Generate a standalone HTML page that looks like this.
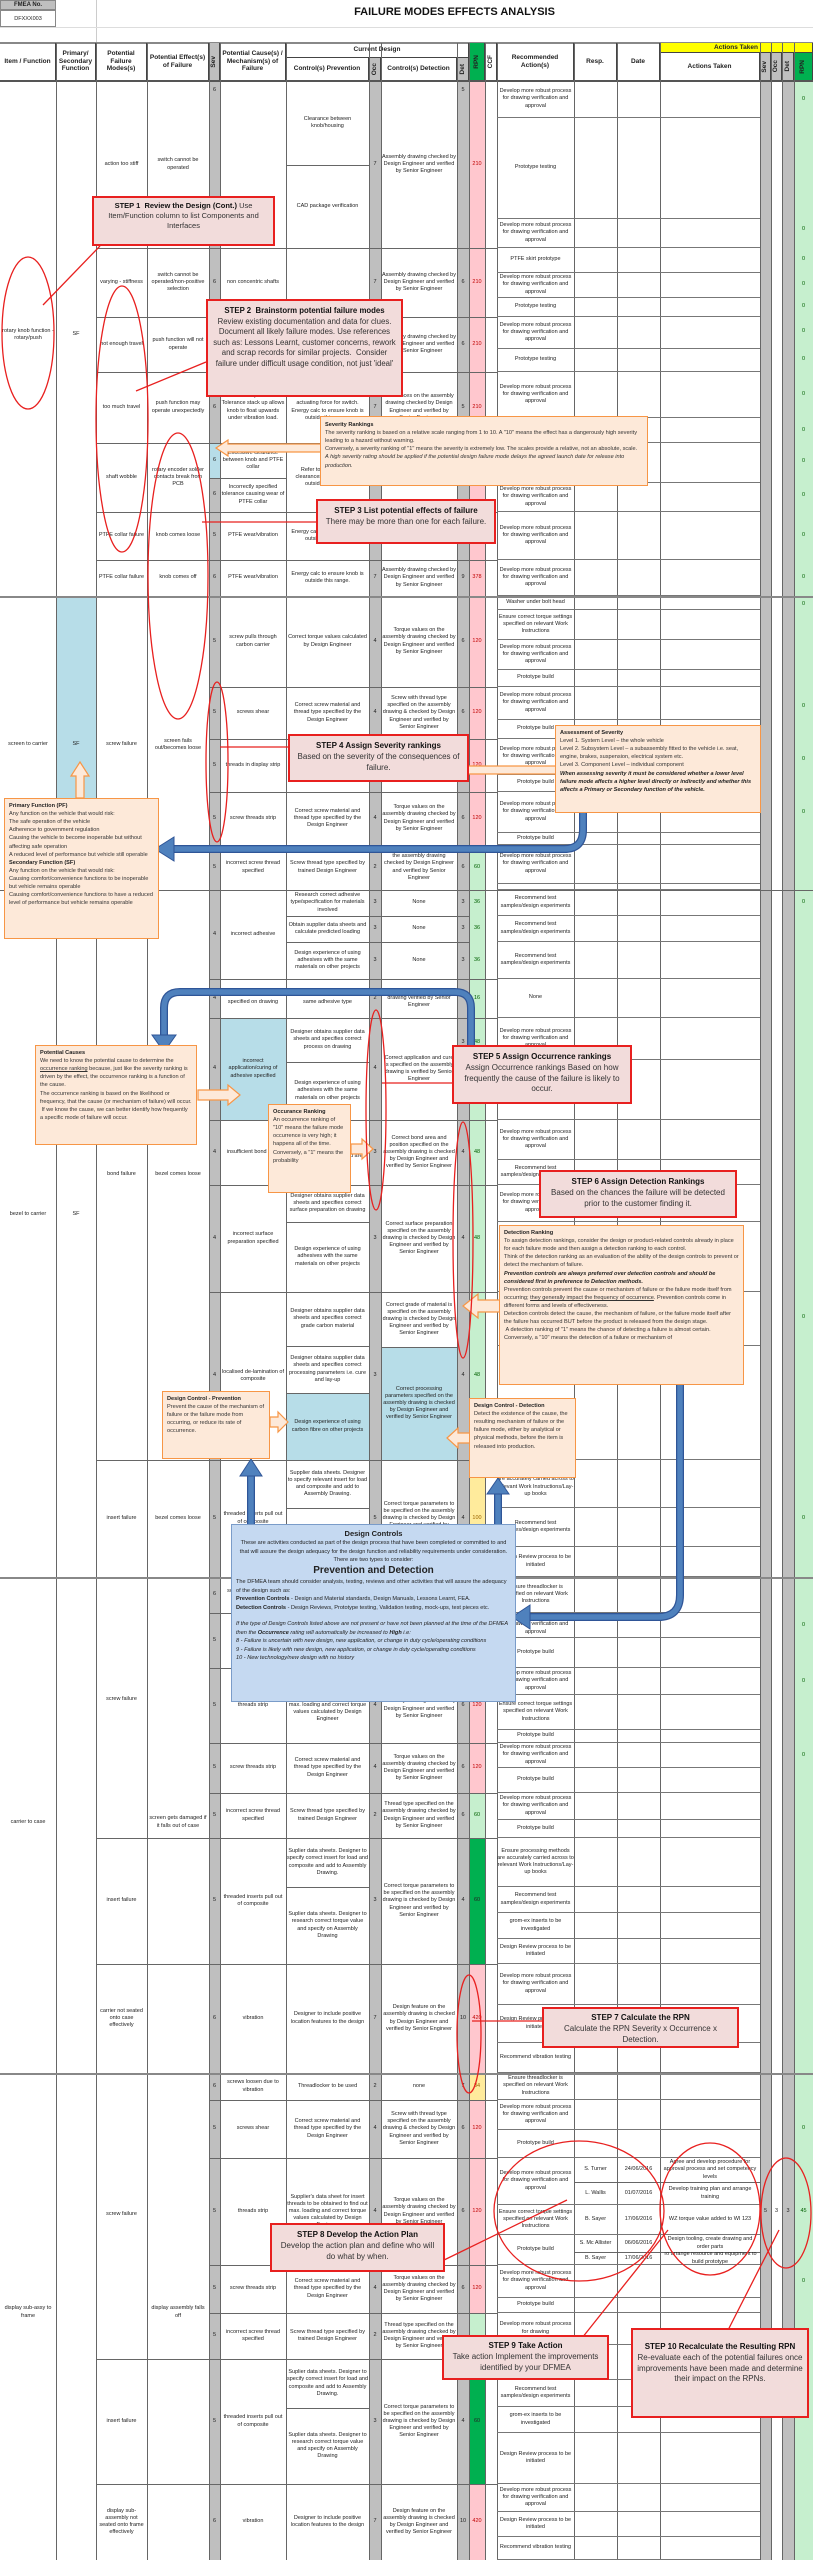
<!DOCTYPE html>
<html><head><meta charset="utf-8">
<style>
*{box-sizing:border-box;margin:0;padding:0}
body{width:813px;height:2560px;position:relative;background:#fff;font-family:"Liberation Sans",sans-serif;color:#222;overflow:hidden}
.a{position:absolute}
.t{position:absolute;display:flex;align-items:center;justify-content:center;text-align:center;font-size:5.5px;line-height:1.3;overflow:hidden;padding:0 1px}
.h{position:absolute;height:1px;background:#666}
.v{position:absolute;width:1px;background:#666;top:43px;height:2517px}
.r{position:absolute;left:497px;width:263px;padding-right:186px;border-bottom:1px solid #777;display:flex;align-items:center;justify-content:center;text-align:center;font-size:5.5px;line-height:1.3;overflow:hidden}
.hd{position:absolute;display:flex;align-items:center;justify-content:center;text-align:center;font-size:6.5px;font-weight:bold;line-height:1.2;border-right:1px solid #444;border-bottom:1px solid #444}
.vt{writing-mode:vertical-rl;transform:rotate(180deg)}
.step{position:absolute;background:#f2dcdb;border:2px solid #e8201f;text-align:center;font-size:8px;line-height:1.35;padding:3px 4px;color:#333}
.step b{color:#111}
.or{position:absolute;background:#fde9d9;border:1.5px solid #f79646;font-size:5.6px;line-height:1.45;padding:3px 4px;color:#333}
.or b{color:#222}
.red{color:#c00000}.grn{color:#006100}
</style></head><body>

<!-- title block -->
<div class="a" style="left:0;top:0;width:56px;height:10px;background:#bfbfbf;border:1px solid #888;font-size:6px;font-weight:bold;text-align:center;line-height:9px">FMEA No.</div>
<div class="a" style="left:0;top:10px;width:56px;height:17px;border:1px solid #888;font-size:5.5px;text-align:center;line-height:16px">DFXXX003</div>
<div class="a" style="left:96px;top:0;width:1px;height:43px;background:#ccc"></div>
<div class="a" style="left:0;top:27px;width:813px;height:1px;background:#ddd"></div>
<div class="a" style="left:96px;top:6px;width:717px;text-align:center;font-size:11px;font-weight:bold;color:#111">FAILURE MODES EFFECTS ANALYSIS</div>
<div class="a" style="left:0;top:42px;width:813px;height:2px;background:#888"></div>

<!-- column background strips -->
<div class="a" style="left:209px;top:81px;width:11px;height:2479px;background:#bfbfbf"></div>
<div class="a" style="left:369px;top:81px;width:12px;height:2479px;background:#bfbfbf"></div>
<div class="a" style="left:457px;top:81px;width:12px;height:2479px;background:#bfbfbf"></div>
<div class="a" style="left:760px;top:81px;width:11px;height:2479px;background:#bfbfbf"></div>
<div class="a" style="left:782px;top:81px;width:12px;height:2479px;background:#bfbfbf"></div>
<div class="a" style="left:794px;top:81px;width:19px;height:2479px;background:#c6efce"></div>
<!-- RPN colours -->
<div class="a" style="left:469px;top:81px;width:16px;height:764px;background:#ffc7ce"></div>
<div class="a" style="left:469px;top:845px;width:16px;height:615px;background:#c6efce"></div>
<div class="a" style="left:469px;top:1460px;width:16px;height:153px;background:#ffeb9c"></div>
<div class="a" style="left:469px;top:1613px;width:16px;height:180px;background:#ffc7ce"></div>
<div class="a" style="left:469px;top:1793px;width:16px;height:45px;background:#c6efce"></div>
<div class="a" style="left:469px;top:1838px;width:16px;height:126px;background:#00b050"></div>
<div class="a" style="left:469px;top:1964px;width:16px;height:109px;background:#ffc7ce"></div>
<div class="a" style="left:469px;top:2073px;width:16px;height:27px;background:#ffeb9c"></div>
<div class="a" style="left:469px;top:2100px;width:16px;height:213px;background:#ffc7ce"></div>
<div class="a" style="left:469px;top:2313px;width:16px;height:46px;background:#c6efce"></div>
<div class="a" style="left:469px;top:2359px;width:16px;height:125px;background:#00b050"></div>
<div class="a" style="left:469px;top:2484px;width:16px;height:76px;background:#ffc7ce"></div>
<!-- light blue cells -->
<div class="a" style="left:56px;top:596px;width:40px;height:294px;background:#b7dde8"></div>
<div class="a" style="left:209px;top:443px;width:11px;height:35px;background:#b7dde8"></div>
<div class="a" style="left:220px;top:1018px;width:66px;height:102px;background:#b7dde8"></div>
<div class="a" style="left:286px;top:1393px;width:83px;height:67px;background:#b7dde8"></div>
<div class="a" style="left:381px;top:1347px;width:76px;height:113px;background:#b7dde8"></div>

<!-- header -->
<div class="hd" style="left:0;top:43px;width:56px;height:38px">Item / Function</div>
<div class="hd" style="left:56px;top:43px;width:40px;height:38px">Primary/ Secondary Function</div>
<div class="hd" style="left:96px;top:43px;width:51px;height:38px">Potential Failure Modes(s)</div>
<div class="hd" style="left:147px;top:43px;width:62px;height:38px">Potential Effect(s) of Failure</div>
<div class="hd" style="left:209px;top:43px;width:11px;height:38px;background:#bfbfbf"><span class="vt">Sev</span></div>
<div class="hd" style="left:220px;top:43px;width:66px;height:38px">Potential Cause(s) / Mechanism(s) of Failure</div>
<div class="hd" style="left:286px;top:43px;width:183px;height:15px">Current Design</div>
<div class="hd" style="left:286px;top:58px;width:83px;height:23px">Control(s) Prevention</div>
<div class="hd" style="left:369px;top:58px;width:12px;height:23px;background:#bfbfbf"><span class="vt">Occ</span></div>
<div class="hd" style="left:381px;top:58px;width:76px;height:23px">Control(s) Detection</div>
<div class="hd" style="left:457px;top:58px;width:12px;height:23px;background:#bfbfbf"><span class="vt">Det</span></div>
<div class="hd" style="left:469px;top:43px;width:16px;height:38px;background:#00b050"><span class="vt">RPN</span></div>
<div class="hd" style="left:485px;top:43px;width:12px;height:38px"><span class="vt">CCF</span></div>
<div class="hd" style="left:497px;top:43px;width:77px;height:38px">Recommended Action(s)</div>
<div class="hd" style="left:574px;top:43px;width:43px;height:38px">Resp.</div>
<div class="hd" style="left:617px;top:43px;width:43px;height:38px">Date</div>
<div class="hd" style="left:660px;top:43px;width:153px;height:10px;background:#ffff00">Actions Taken</div>
<div class="hd" style="left:660px;top:53px;width:100px;height:28px">Actions Taken</div>
<div class="hd" style="left:760px;top:53px;width:11px;height:28px;background:#bfbfbf"><span class="vt">Sev</span></div>
<div class="hd" style="left:771px;top:53px;width:11px;height:28px;background:#bfbfbf"><span class="vt">Occ</span></div>
<div class="hd" style="left:782px;top:53px;width:12px;height:28px;background:#bfbfbf"><span class="vt">Det</span></div>
<div class="hd" style="left:794px;top:53px;width:19px;height:28px;background:#00b050"><span class="vt">RPN</span></div>
<div class="a" style="left:0;top:80px;width:813px;height:2px;background:#555"></div>

<!-- vertical grid lines -->
<div class="v" style="left:56px"></div><div class="v" style="left:96px"></div><div class="v" style="left:147px"></div><div class="v" style="left:209px"></div><div class="v" style="left:220px"></div><div class="v" style="left:286px"></div><div class="v" style="left:369px"></div><div class="v" style="left:381px"></div><div class="v" style="left:457px"></div><div class="v" style="left:469px"></div><div class="v" style="left:485px"></div><div class="v" style="left:497px"></div><div class="v" style="left:574px"></div><div class="v" style="left:617px"></div><div class="v" style="left:660px"></div><div class="v" style="left:760px"></div><div class="v" style="left:771px"></div><div class="v" style="left:782px"></div><div class="v" style="left:794px"></div>

<!-- section lines -->
<div class="h" style="left:0;top:596px;width:813px;height:2px;background:#888"></div>
<div class="h" style="left:0;top:890px;width:813px"></div>
<div class="h" style="left:0;top:1577px;width:813px;height:2px;background:#888"></div>
<div class="h" style="left:0;top:2073px;width:813px;height:2px;background:#888"></div>
<!-- failure mode lines -->
<div class="h" style="left:96px;top:248px;width:401px"></div><div class="h" style="left:96px;top:317px;width:401px"></div><div class="h" style="left:96px;top:372px;width:401px"></div><div class="h" style="left:96px;top:443px;width:401px"></div><div class="h" style="left:96px;top:512px;width:401px"></div><div class="h" style="left:96px;top:560px;width:401px"></div>
<div class="h" style="left:96px;top:1460px;width:401px"></div>
<div class="h" style="left:96px;top:1838px;width:401px"></div><div class="h" style="left:96px;top:1964px;width:401px"></div>
<div class="h" style="left:96px;top:2359px;width:401px"></div><div class="h" style="left:96px;top:2484px;width:401px"></div>
<!-- cause lines -->
<div class="h" style="left:209px;top:478px;width:77px"></div>
<div class="h" style="left:209px;top:687px;width:288px"></div><div class="h" style="left:209px;top:739px;width:288px"></div><div class="h" style="left:209px;top:792px;width:288px"></div><div class="h" style="left:209px;top:845px;width:288px"></div>
<div class="h" style="left:209px;top:979px;width:288px"></div><div class="h" style="left:209px;top:1018px;width:288px"></div><div class="h" style="left:209px;top:1120px;width:288px"></div><div class="h" style="left:209px;top:1185px;width:288px"></div><div class="h" style="left:209px;top:1292px;width:288px"></div>
<div class="h" style="left:209px;top:1613px;width:288px"></div><div class="h" style="left:209px;top:1668px;width:288px"></div><div class="h" style="left:209px;top:1743px;width:288px"></div><div class="h" style="left:209px;top:1793px;width:288px"></div>
<div class="h" style="left:209px;top:2100px;width:288px"></div><div class="h" style="left:209px;top:2158px;width:288px"></div><div class="h" style="left:209px;top:2265px;width:288px"></div><div class="h" style="left:209px;top:2313px;width:288px"></div>
<!-- prevention/detection splits -->
<div class="h" style="left:286px;top:165px;width:83px"></div><div class="h" style="left:286px;top:916px;width:183px"></div><div class="h" style="left:286px;top:942px;width:183px"></div><div class="h" style="left:286px;top:1062px;width:83px"></div><div class="h" style="left:286px;top:1222px;width:83px"></div><div class="h" style="left:286px;top:1346px;width:83px"></div><div class="h" style="left:286px;top:1393px;width:83px"></div><div class="h" style="left:286px;top:1508px;width:83px"></div><div class="h" style="left:381px;top:1347px;width:76px"></div>
<div class="h" style="left:286px;top:1887px;width:83px"></div><div class="h" style="left:286px;top:2408px;width:83px"></div>

<!-- Section 1 text -->
<div class="t" style="left:0;top:300px;width:56px;height:70px">rotary knob function - rotary/push</div>
<div class="t" style="left:56px;top:300px;width:40px;height:70px">SF</div>
<div class="t" style="left:96px;top:81px;width:51px;height:167px">action too stiff</div>
<div class="t" style="left:147px;top:81px;width:62px;height:167px">switch cannot be operated</div>
<div class="t" style="left:96px;top:248px;width:51px;height:69px">varying - stiffness</div>
<div class="t" style="left:147px;top:248px;width:62px;height:69px">switch cannot be operated/non-positive selection</div>
<div class="t" style="left:96px;top:317px;width:51px;height:55px">not enough travel</div>
<div class="t" style="left:147px;top:317px;width:62px;height:55px">push function will not operate</div>
<div class="t" style="left:96px;top:372px;width:51px;height:71px">too much travel</div>
<div class="t" style="left:147px;top:372px;width:62px;height:71px">push function may operate unexpectedly</div>
<div class="t" style="left:96px;top:443px;width:51px;height:69px">shaft wobble</div>
<div class="t" style="left:147px;top:443px;width:62px;height:69px">rotary encoder solder contacts break from PCB</div>
<div class="t" style="left:96px;top:512px;width:51px;height:48px">PTFE collar failure</div>
<div class="t" style="left:147px;top:512px;width:62px;height:48px">knob comes loose</div>
<div class="t" style="left:96px;top:560px;width:51px;height:36px">PTFE collar failure</div>
<div class="t" style="left:147px;top:560px;width:62px;height:36px">knob comes off</div>

<div class="t" style="left:209px;top:81px;width:11px;height:20px">6</div>
<div class="t" style="left:286px;top:81px;width:83px;height:84px">Clearance between knob/housing</div>
<div class="t" style="left:286px;top:165px;width:83px;height:83px">CAD package verification</div>
<div class="t" style="left:369px;top:81px;width:12px;height:167px">7</div>
<div class="t" style="left:381px;top:81px;width:76px;height:167px">Assembly drawing checked by Design Engineer and verified by Senior Engineer</div>
<div class="t" style="left:457px;top:81px;width:12px;height:20px">5</div>
<div class="t red" style="left:469px;top:81px;width:16px;height:167px">210</div>

<div class="t" style="left:209px;top:248px;width:11px;height:69px">6</div>
<div class="t" style="left:220px;top:248px;width:66px;height:69px">non concentric shafts</div>
<div class="t" style="left:369px;top:248px;width:12px;height:69px">7</div>
<div class="t" style="left:381px;top:248px;width:76px;height:69px">Assembly drawing checked by Design Engineer and verified by Senior Engineer</div>
<div class="t" style="left:457px;top:248px;width:12px;height:69px">6</div>
<div class="t red" style="left:469px;top:248px;width:16px;height:69px">210</div>

<div class="t" style="left:381px;top:317px;width:76px;height:55px">Assembly drawing checked by Design Engineer and verified by Senior Engineer</div>
<div class="t" style="left:457px;top:317px;width:12px;height:55px">6</div>
<div class="t red" style="left:469px;top:317px;width:16px;height:55px">210</div>

<div class="t" style="left:209px;top:372px;width:11px;height:71px">6</div>
<div class="t" style="left:220px;top:372px;width:66px;height:71px">function operation. Tolerance stack up allows knob to float upwards under vibration load.</div>
<div class="t" style="left:286px;top:372px;width:83px;height:71px">Refer to datasheet for minimum actuating force for switch. Energy calc to ensure knob is outside this range.</div>
<div class="t" style="left:369px;top:372px;width:12px;height:71px">7</div>
<div class="t" style="left:381px;top:372px;width:76px;height:71px">Clearances on the assembly drawing checked by Design Engineer and verified by Senior Engineer</div>
<div class="t" style="left:457px;top:372px;width:12px;height:71px">5</div>
<div class="t red" style="left:469px;top:372px;width:16px;height:71px">210</div>

<div class="t" style="left:209px;top:443px;width:11px;height:35px">6</div>
<div class="t" style="left:220px;top:443px;width:66px;height:35px">Excessive clearance between knob and PTFE collar</div>
<div class="t" style="left:209px;top:478px;width:11px;height:34px">6</div>
<div class="t" style="left:220px;top:478px;width:66px;height:34px">Incorrectly specified tolerance causing wear of PTFE collar</div>
<div class="t" style="left:286px;top:443px;width:83px;height:69px">Refer to datasheet for clearances ensure knob is outside this range.</div>
<div class="t" style="left:369px;top:443px;width:12px;height:69px">7</div>
<div class="t" style="left:381px;top:443px;width:76px;height:69px">Assembly drawing checked by Design Engineer and verified by Senior Engineer</div>
<div class="t" style="left:457px;top:443px;width:12px;height:69px">8</div>
<div class="t red" style="left:469px;top:443px;width:16px;height:69px">336</div>

<div class="t" style="left:209px;top:512px;width:11px;height:48px">5</div>
<div class="t" style="left:220px;top:512px;width:66px;height:48px">PTFE wear/vibration</div>
<div class="t" style="left:286px;top:512px;width:83px;height:48px">Energy calc to ensure knob is outside this range.</div>
<div class="t" style="left:381px;top:512px;width:76px;height:48px">Senior Engineer</div>
<div class="t" style="left:209px;top:560px;width:11px;height:36px">6</div>
<div class="t" style="left:220px;top:560px;width:66px;height:36px">PTFE wear/vibration</div>
<div class="t" style="left:286px;top:560px;width:83px;height:36px">Energy calc to ensure knob is outside this range.</div>
<div class="t" style="left:369px;top:560px;width:12px;height:36px">7</div>
<div class="t" style="left:381px;top:560px;width:76px;height:36px">Assembly drawing checked by Design Engineer and verified by Senior Engineer</div>
<div class="t" style="left:457px;top:560px;width:12px;height:36px">9</div>
<div class="t red" style="left:469px;top:560px;width:16px;height:36px">378</div>

<!-- rec section 1 -->
<div class="r" style="top:81px;height:37px">Develop more robust process for drawing verification and approval</div>
<div class="r" style="top:118px;height:101px">Prototype testing</div>
<div class="r" style="top:219px;height:29px">Develop more robust process for drawing verification and approval</div>
<div class="r" style="top:248px;height:25px">PTFE skirt prototype</div>
<div class="r" style="top:273px;height:25px">Develop more robust process for drawing verification and approval</div>
<div class="r" style="top:298px;height:19px">Prototype testing</div>
<div class="r" style="top:317px;height:32px">Develop more robust process for drawing verification and approval</div>
<div class="r" style="top:349px;height:23px">Prototype testing</div>
<div class="r" style="top:372px;height:46px">Develop more robust process for drawing verification and approval</div>
<div class="r" style="top:418px;height:25px"></div>
<div class="r" style="top:443px;height:40px"></div>
<div class="r" style="top:483px;height:29px">Develop more robust process for drawing verification and approval</div>
<div class="r" style="top:512px;height:48px">Develop more robust process for drawing verification and approval</div>
<div class="r" style="top:560px;height:36px">Develop more robust process for drawing verification and approval</div>

<!-- Section 2 -->
<div class="t" style="left:0;top:720px;width:56px;height:50px">screen to carrier</div>
<div class="t" style="left:56px;top:720px;width:40px;height:50px">SF</div>
<div class="t" style="left:96px;top:720px;width:51px;height:50px">screw failure</div>
<div class="t" style="left:147px;top:720px;width:62px;height:50px">screen fails out/becomes loose</div>
<div class="t" style="left:209px;top:596px;width:11px;height:91px">5</div>
<div class="t" style="left:220px;top:596px;width:66px;height:91px">screw pulls through carbon carrier</div>
<div class="t" style="left:286px;top:596px;width:83px;height:91px">Correct torque values calculated by Design Engineer</div>
<div class="t" style="left:369px;top:596px;width:12px;height:91px">4</div>
<div class="t" style="left:381px;top:596px;width:76px;height:91px">Torque values on the assembly drawing checked by Design Engineer and verified by Senior Engineer</div>
<div class="t" style="left:457px;top:596px;width:12px;height:91px">6</div>
<div class="t red" style="left:469px;top:596px;width:16px;height:91px">120</div>
<div class="t" style="left:209px;top:687px;width:11px;height:52px">5</div>
<div class="t" style="left:220px;top:687px;width:66px;height:52px">screws shear</div>
<div class="t" style="left:286px;top:687px;width:83px;height:52px">Correct screw material and thread type specified by the Design Engineer</div>
<div class="t" style="left:369px;top:687px;width:12px;height:52px">4</div>
<div class="t" style="left:381px;top:687px;width:76px;height:52px">Screw with thread type specified on the assembly drawing &amp; checked by Design Engineer and verified by Senior Engineer</div>
<div class="t" style="left:457px;top:687px;width:12px;height:52px">6</div>
<div class="t red" style="left:469px;top:687px;width:16px;height:52px">120</div>
<div class="t" style="left:209px;top:739px;width:11px;height:53px">5</div>
<div class="t" style="left:220px;top:739px;width:66px;height:53px">threads in display strip</div>
<div class="t red" style="left:469px;top:739px;width:16px;height:53px">120</div>
<div class="t" style="left:209px;top:792px;width:11px;height:53px">5</div>
<div class="t" style="left:220px;top:792px;width:66px;height:53px">screw threads strip</div>
<div class="t" style="left:286px;top:792px;width:83px;height:53px">Correct screw material and thread type specified by the Design Engineer</div>
<div class="t" style="left:369px;top:792px;width:12px;height:53px">4</div>
<div class="t" style="left:381px;top:792px;width:76px;height:53px">Torque values on the assembly drawing checked by Design Engineer and verified by Senior Engineer</div>
<div class="t" style="left:457px;top:792px;width:12px;height:53px">6</div>
<div class="t red" style="left:469px;top:792px;width:16px;height:53px">120</div>
<div class="t" style="left:209px;top:845px;width:11px;height:45px">5</div>
<div class="t" style="left:220px;top:845px;width:66px;height:45px">incorrect screw thread specified</div>
<div class="t" style="left:286px;top:845px;width:83px;height:45px">Screw thread type specified by trained Design Engineer</div>
<div class="t" style="left:369px;top:845px;width:12px;height:45px">2</div>
<div class="t" style="left:381px;top:845px;width:76px;height:45px">the assembly drawing checked by Design Engineer and verified by Senior Engineer</div>
<div class="t" style="left:457px;top:845px;width:12px;height:45px">6</div>
<div class="t grn" style="left:469px;top:845px;width:16px;height:45px">60</div>
<div class="r" style="top:596px;height:14px">Washer under bolt head</div>
<div class="r" style="top:610px;height:30px">Ensure correct torque settings specified on relevant Work Instructions</div>
<div class="r" style="top:640px;height:30px">Develop more robust process for drawing verification and approval</div>
<div class="r" style="top:670px;height:17px">Prototype build</div>
<div class="r" style="top:687px;height:33px">Develop more robust process for drawing verification and approval</div>
<div class="r" style="top:720px;height:19px">Prototype build</div>
<div class="r" style="top:739px;height:36px">Develop more robust process for drawing verification and approval</div>
<div class="r" style="top:775px;height:17px">Prototype build</div>
<div class="r" style="top:792px;height:41px">Develop more robust process for drawing verification and approval</div>
<div class="r" style="top:833px;height:12px">Prototype build</div>
<div class="r" style="top:845px;height:39px">Develop more robust process for drawing verification and approval</div>
<div class="r" style="top:884px;height:6px"></div>

<!-- Section 3 -->
<div class="t" style="left:0;top:1200px;width:56px;height:30px">bezel to carrier</div>
<div class="t" style="left:56px;top:1200px;width:40px;height:30px">SF</div>
<div class="t" style="left:96px;top:1160px;width:51px;height:30px">bond failure</div>
<div class="t" style="left:147px;top:1160px;width:62px;height:30px">bezel comes loose</div>
<div class="t" style="left:96px;top:1460px;width:51px;height:117px">insert failure</div>
<div class="t" style="left:147px;top:1460px;width:62px;height:117px">bezel comes loose</div>
<div class="t" style="left:209px;top:890px;width:11px;height:89px">4</div>
<div class="t" style="left:220px;top:890px;width:66px;height:89px">incorrect adhesive</div>
<div class="t" style="left:286px;top:890px;width:83px;height:26px">Research correct adhesive type/specification for materials involved</div>
<div class="t" style="left:286px;top:916px;width:83px;height:26px">Obtain supplier data sheets and calculate predicted loading</div>
<div class="t" style="left:286px;top:942px;width:83px;height:37px">Design experience of using adhesives with the same materials on other projects</div>
<div class="t" style="left:369px;top:890px;width:12px;height:26px">3</div><div class="t" style="left:369px;top:916px;width:12px;height:26px">3</div><div class="t" style="left:369px;top:942px;width:12px;height:37px">3</div>
<div class="t" style="left:381px;top:890px;width:76px;height:26px">None</div><div class="t" style="left:381px;top:916px;width:76px;height:26px">None</div><div class="t" style="left:381px;top:942px;width:76px;height:37px">None</div>
<div class="t" style="left:457px;top:890px;width:12px;height:26px">3</div><div class="t" style="left:457px;top:916px;width:12px;height:26px">3</div><div class="t" style="left:457px;top:942px;width:12px;height:37px">3</div>
<div class="t grn" style="left:469px;top:890px;width:16px;height:26px">36</div><div class="t grn" style="left:469px;top:916px;width:16px;height:26px">36</div><div class="t grn" style="left:469px;top:942px;width:16px;height:37px">36</div>
<div class="t" style="left:209px;top:979px;width:11px;height:39px">4</div>
<div class="t" style="left:220px;top:979px;width:66px;height:39px">correct adhesive adhesive specified on drawing</div>
<div class="t" style="left:286px;top:979px;width:83px;height:39px">Design experience of using the same adhesive type</div>
<div class="t" style="left:369px;top:979px;width:12px;height:39px">2</div>
<div class="t" style="left:381px;top:979px;width:76px;height:39px">Adhesive type specified on drawing verified by Senior Engineer</div>
<div class="t grn" style="left:469px;top:979px;width:16px;height:39px">16</div>
<div class="t" style="left:209px;top:1018px;width:11px;height:102px">4</div>
<div class="t" style="left:220px;top:1018px;width:66px;height:102px">incorrect application/curing of adhesive specified</div>
<div class="t" style="left:286px;top:1018px;width:83px;height:44px">Designer obtains supplier data sheets and specifies correct process on drawing</div>
<div class="t" style="left:286px;top:1062px;width:83px;height:58px">Design experience of using adhesives with the same materials on other projects</div>
<div class="t" style="left:369px;top:1018px;width:12px;height:102px">4</div>
<div class="t" style="left:381px;top:1018px;width:76px;height:102px">Correct application and cure is specified on the assembly drawing is verified by Senior Engineer</div>
<div class="t" style="left:457px;top:1018px;width:12px;height:50px">3</div>
<div class="t grn" style="left:469px;top:1018px;width:16px;height:50px">48</div>
<div class="t" style="left:209px;top:1120px;width:11px;height:65px">4</div>
<div class="t" style="left:220px;top:1120px;width:66px;height:65px">insufficient bond area</div>
<div class="t" style="left:286px;top:1120px;width:83px;height:65px">Designer obtains supplier data sheets and specifies bond area</div>
<div class="t" style="left:369px;top:1120px;width:12px;height:65px">3</div>
<div class="t" style="left:381px;top:1120px;width:76px;height:65px">Correct bond area and position specified on the assembly drawing is checked by Design Engineer and verified by Senior Engineer</div>
<div class="t" style="left:457px;top:1120px;width:12px;height:65px">4</div>
<div class="t grn" style="left:469px;top:1120px;width:16px;height:65px">48</div>
<div class="t" style="left:209px;top:1185px;width:11px;height:107px">4</div>
<div class="t" style="left:220px;top:1185px;width:66px;height:107px">incorrect surface preparation specified</div>
<div class="t" style="left:286px;top:1185px;width:83px;height:37px">Designer obtains supplier data sheets and specifies correct surface preparation on drawing</div>
<div class="t" style="left:286px;top:1222px;width:83px;height:70px">Design experience of using adhesives with the same materials on other projects</div>
<div class="t" style="left:369px;top:1185px;width:12px;height:107px">3</div>
<div class="t" style="left:381px;top:1185px;width:76px;height:107px">Correct surface preparation specified on the assembly drawing is checked by Design Engineer and verified by Senior Engineer</div>
<div class="t" style="left:457px;top:1185px;width:12px;height:107px">4</div>
<div class="t grn" style="left:469px;top:1185px;width:16px;height:107px">48</div>
<div class="t" style="left:209px;top:1292px;width:11px;height:168px">4</div>
<div class="t" style="left:220px;top:1292px;width:66px;height:168px">localised de-lamination of composite</div>
<div class="t" style="left:286px;top:1292px;width:83px;height:54px">Designer obtains supplier data sheets and specifies correct grade carbon material</div>
<div class="t" style="left:286px;top:1346px;width:83px;height:47px">Designer obtains supplier data sheets and specifies correct processing parameters i.e. cure and lay-up</div>
<div class="t" style="left:286px;top:1393px;width:83px;height:67px">Design experience of using carbon fibre on other projects</div>
<div class="t" style="left:369px;top:1292px;width:12px;height:168px">3</div>
<div class="t" style="left:381px;top:1292px;width:76px;height:55px">Correct grade of material is specified on the assembly drawing is checked by Design Engineer and verified by Senior Engineer</div>
<div class="t" style="left:381px;top:1347px;width:76px;height:113px">Correct processing parameters specified on the assembly drawing is checked by Design Engineer and verified by Senior Engineer</div>
<div class="t" style="left:457px;top:1292px;width:12px;height:168px">4</div>
<div class="t grn" style="left:469px;top:1292px;width:16px;height:168px">48</div>
<div class="t" style="left:209px;top:1460px;width:11px;height:117px">5</div>
<div class="t" style="left:220px;top:1460px;width:66px;height:117px">threaded inserts pull out of composite</div>
<div class="t" style="left:286px;top:1460px;width:83px;height:48px">Supplier data sheets. Designer to specify relevant insert for load and composite and add to Assembly Drawing.</div>
<div class="t" style="left:286px;top:1508px;width:83px;height:69px">Supplier data sheets. Designer to research correct torque value and specify on Assembly Drawing</div>
<div class="t" style="left:369px;top:1460px;width:12px;height:117px">5</div>
<div class="t" style="left:381px;top:1460px;width:76px;height:117px">Correct torque parameters to be specified on the assembly drawing is checked by Design Engineer and verified by Senior Engineer</div>
<div class="t" style="left:457px;top:1460px;width:12px;height:117px">4</div>
<div class="t" style="left:469px;top:1460px;width:16px;height:117px;color:#9c6500">100</div>
<div class="r" style="top:890px;height:26px">Recommend test samples/design experiments</div>
<div class="r" style="top:916px;height:26px">Recommend test samples/design experiments</div>
<div class="r" style="top:942px;height:37px">Recommend test samples/design experiments</div>
<div class="r" style="top:979px;height:39px">None</div>
<div class="r" style="top:1018px;height:42px">Develop more robust process for drawing verification and approval</div>
<div class="r" style="top:1060px;height:60px">Ensure processing methods are accurately carried across to relevant Work Instructions</div>
<div class="r" style="top:1120px;height:40px">Develop more robust process for drawing verification and approval</div>
<div class="r" style="top:1160px;height:25px">Recommend test samples/design experiments</div>
<div class="r" style="top:1185px;height:37px">Develop more robust process for drawing verification and approval</div>
<div class="r" style="top:1222px;height:70px">Recommend test samples/design experiments</div>
<div class="r" style="top:1292px;height:54px"></div>
<div class="r" style="top:1346px;height:114px"></div>
<div class="r" style="top:1460px;height:48px">Ensure processing methods are accurately carried across to relevant Work Instructions/Lay-up books</div>
<div class="r" style="top:1508px;height:39px">Recommend test samples/design experiments</div>
<div class="r" style="top:1547px;height:30px">Design Review process to be initiated</div>

<!-- Section 4 -->
<div class="t" style="left:0;top:1800px;width:56px;height:45px">carrier to case</div>
<div class="t" style="left:96px;top:1680px;width:51px;height:40px">screw failure</div>
<div class="t" style="left:147px;top:1800px;width:62px;height:45px">screen gets damaged if it falls out of case</div>
<div class="t" style="left:96px;top:1838px;width:51px;height:126px">insert failure</div>
<div class="t" style="left:96px;top:1964px;width:51px;height:109px">carrier not seated onto case effectively</div>
<div class="t" style="left:209px;top:1577px;width:11px;height:36px">6</div>
<div class="t" style="left:220px;top:1577px;width:66px;height:36px">screws loosen due to vibration</div>
<div class="t" style="left:286px;top:1577px;width:83px;height:36px">Threadlocker to be used</div>
<div class="t" style="left:369px;top:1577px;width:12px;height:36px">2</div>
<div class="t" style="left:381px;top:1577px;width:76px;height:36px">none</div>
<div class="t" style="left:457px;top:1577px;width:12px;height:36px">7</div>
<div class="t" style="left:469px;top:1577px;width:16px;height:36px;color:#9c6500">84</div>
<div class="t" style="left:209px;top:1613px;width:11px;height:55px">5</div>
<div class="t" style="left:220px;top:1613px;width:66px;height:55px">screws shear</div>
<div class="t red" style="left:469px;top:1613px;width:16px;height:55px">120</div>
<div class="t" style="left:209px;top:1668px;width:11px;height:75px">5</div>
<div class="t" style="left:220px;top:1668px;width:66px;height:75px">threads strip</div>
<div class="t" style="left:286px;top:1668px;width:83px;height:75px">Supplier's data sheet for insert threads to be obtained to find out max. loading and correct torque values calculated by Design Engineer</div>
<div class="t" style="left:369px;top:1668px;width:12px;height:75px">4</div>
<div class="t" style="left:381px;top:1668px;width:76px;height:75px">Torque values on the assembly drawing checked by Design Engineer and verified by Senior Engineer</div>
<div class="t" style="left:457px;top:1668px;width:12px;height:75px">6</div>
<div class="t red" style="left:469px;top:1668px;width:16px;height:75px">120</div>
<div class="t" style="left:209px;top:1743px;width:11px;height:50px">5</div>
<div class="t" style="left:220px;top:1743px;width:66px;height:50px">screw threads strip</div>
<div class="t" style="left:286px;top:1743px;width:83px;height:50px">Correct screw material and thread type specified by the Design Engineer</div>
<div class="t" style="left:369px;top:1743px;width:12px;height:50px">4</div>
<div class="t" style="left:381px;top:1743px;width:76px;height:50px">Torque values on the assembly drawing checked by Design Engineer and verified by Senior Engineer</div>
<div class="t" style="left:457px;top:1743px;width:12px;height:50px">6</div>
<div class="t red" style="left:469px;top:1743px;width:16px;height:50px">120</div>
<div class="t" style="left:209px;top:1793px;width:11px;height:45px">5</div>
<div class="t" style="left:220px;top:1793px;width:66px;height:45px">incorrect screw thread specified</div>
<div class="t" style="left:286px;top:1793px;width:83px;height:45px">Screw thread type specified by trained Design Engineer</div>
<div class="t" style="left:369px;top:1793px;width:12px;height:45px">2</div>
<div class="t" style="left:381px;top:1793px;width:76px;height:45px">Thread type specified on the assembly drawing checked by Design Engineer and verified by Senior Engineer</div>
<div class="t" style="left:457px;top:1793px;width:12px;height:45px">6</div>
<div class="t grn" style="left:469px;top:1793px;width:16px;height:45px">60</div>
<div class="t" style="left:209px;top:1838px;width:11px;height:126px">5</div>
<div class="t" style="left:220px;top:1838px;width:66px;height:126px">threaded inserts pull out of composite</div>
<div class="t" style="left:286px;top:1838px;width:83px;height:49px">Suplier data sheets. Designer to specify correct insert for load and composite and add to Assembly Drawing.</div>
<div class="t" style="left:286px;top:1887px;width:83px;height:77px">Suplier data sheets. Designer to research correct torque value and specify on Assembly Drawing</div>
<div class="t" style="left:369px;top:1838px;width:12px;height:126px">3</div>
<div class="t" style="left:381px;top:1838px;width:76px;height:126px">Correct torque parameters to be specified on the assembly drawing is checked by Design Engineer and verified by Senior Engineer</div>
<div class="t" style="left:457px;top:1838px;width:12px;height:126px">4</div>
<div class="t" style="left:469px;top:1838px;width:16px;height:126px">60</div>
<div class="t" style="left:209px;top:1964px;width:11px;height:109px">6</div>
<div class="t" style="left:220px;top:1964px;width:66px;height:109px">vibration</div>
<div class="t" style="left:286px;top:1964px;width:83px;height:109px">Designer to include positive location features to the design</div>
<div class="t" style="left:369px;top:1964px;width:12px;height:109px">7</div>
<div class="t" style="left:381px;top:1964px;width:76px;height:109px">Design feature on the assembly drawing is checked by Design Engineer and verified by Senior Engineer</div>
<div class="t" style="left:457px;top:1964px;width:12px;height:109px">10</div>
<div class="t red" style="left:469px;top:1964px;width:16px;height:109px">420</div>
<div class="r" style="top:1577px;height:36px">Ensure threadlocker is specified on relevant Work Instructions</div>
<div class="r" style="top:1613px;height:25px">Develop more robust process for drawing verification and approval</div>
<div class="r" style="top:1638px;height:30px">Prototype build</div>
<div class="r" style="top:1668px;height:27px">Develop more robust process for drawing verification and approval</div>
<div class="r" style="top:1695px;height:35px">Ensure correct torque settings specified on relevant Work Instructions</div>
<div class="r" style="top:1730px;height:13px">Prototype build</div>
<div class="r" style="top:1743px;height:25px">Develop more robust process for drawing verification and approval</div>
<div class="r" style="top:1768px;height:25px">Prototype build</div>
<div class="r" style="top:1793px;height:27px">Develop more robust process for drawing verification and approval</div>
<div class="r" style="top:1820px;height:18px">Prototype build</div>
<div class="r" style="top:1838px;height:49px">Ensure processing methods are accurately carried across to relevant Work Instructions/Lay-up books</div>
<div class="r" style="top:1887px;height:26px">Recommend test samples/design experiments</div>
<div class="r" style="top:1913px;height:26px">grom-ex inserts to be investigated</div>
<div class="r" style="top:1939px;height:25px">Design Review process to be initiated</div>
<div class="r" style="top:1964px;height:41px">Develop more robust process for drawing verification and approval</div>
<div class="r" style="top:2005px;height:38px">Design Review process to be initiated</div>
<div class="r" style="top:2043px;height:30px">Recommend vibration testing</div>

<!-- Section 5 -->
<div class="t" style="left:0;top:2295px;width:56px;height:35px">display sub-assy to frame</div>
<div class="t" style="left:96px;top:2200px;width:51px;height:30px">screw failure</div>
<div class="t" style="left:147px;top:2295px;width:62px;height:35px">display assembly falls off</div>
<div class="t" style="left:96px;top:2359px;width:51px;height:125px">insert failure</div>
<div class="t" style="left:96px;top:2484px;width:51px;height:76px">display sub-assembly not seated onto frame effectively</div>
<div class="t" style="left:209px;top:2073px;width:11px;height:27px">6</div>
<div class="t" style="left:220px;top:2073px;width:66px;height:27px">screws loosen due to vibration</div>
<div class="t" style="left:286px;top:2073px;width:83px;height:27px">Threadlocker to be used</div>
<div class="t" style="left:369px;top:2073px;width:12px;height:27px">2</div>
<div class="t" style="left:381px;top:2073px;width:76px;height:27px">none</div>
<div class="t" style="left:457px;top:2073px;width:12px;height:27px">7</div>
<div class="t" style="left:469px;top:2073px;width:16px;height:27px;color:#9c6500">84</div>
<div class="t" style="left:209px;top:2100px;width:11px;height:58px">5</div>
<div class="t" style="left:220px;top:2100px;width:66px;height:58px">screws shear</div>
<div class="t" style="left:286px;top:2100px;width:83px;height:58px">Correct screw material and thread type specified by the Design Engineer</div>
<div class="t" style="left:369px;top:2100px;width:12px;height:58px">4</div>
<div class="t" style="left:381px;top:2100px;width:76px;height:58px">Screw with thread type specified on the assembly drawing &amp; checked by Design Engineer and verified by Senior Engineer</div>
<div class="t" style="left:457px;top:2100px;width:12px;height:58px">6</div>
<div class="t red" style="left:469px;top:2100px;width:16px;height:58px">120</div>
<div class="t" style="left:209px;top:2158px;width:11px;height:107px">5</div>
<div class="t" style="left:220px;top:2158px;width:66px;height:107px">threads strip</div>
<div class="t" style="left:286px;top:2158px;width:83px;height:107px">Supplier's data sheet for insert threads to be obtained to find out max. loading and correct torque values calculated by Design Engineer</div>
<div class="t" style="left:369px;top:2158px;width:12px;height:107px">4</div>
<div class="t" style="left:381px;top:2158px;width:76px;height:107px">Torque values on the assembly drawing checked by Design Engineer and verified by Senior Engineer</div>
<div class="t" style="left:457px;top:2158px;width:12px;height:107px">6</div>
<div class="t red" style="left:469px;top:2158px;width:16px;height:107px">120</div>
<div class="t" style="left:209px;top:2265px;width:11px;height:48px">5</div>
<div class="t" style="left:220px;top:2265px;width:66px;height:48px">screw threads strip</div>
<div class="t" style="left:286px;top:2265px;width:83px;height:48px">Correct screw material and thread type specified by the Design Engineer</div>
<div class="t" style="left:369px;top:2265px;width:12px;height:48px">4</div>
<div class="t" style="left:381px;top:2265px;width:76px;height:48px">Torque values on the assembly drawing checked by Design Engineer and verified by Senior Engineer</div>
<div class="t" style="left:457px;top:2265px;width:12px;height:48px">6</div>
<div class="t red" style="left:469px;top:2265px;width:16px;height:48px">120</div>
<div class="t" style="left:209px;top:2313px;width:11px;height:46px">5</div>
<div class="t" style="left:220px;top:2313px;width:66px;height:46px">incorrect screw thread specified</div>
<div class="t" style="left:286px;top:2313px;width:83px;height:46px">Screw thread type specified by trained Design Engineer</div>
<div class="t" style="left:369px;top:2313px;width:12px;height:46px">2</div>
<div class="t" style="left:381px;top:2313px;width:76px;height:46px">Thread type specified on the assembly drawing checked by Design Engineer and verified by Senior Engineer</div>
<div class="t" style="left:209px;top:2359px;width:11px;height:125px">5</div>
<div class="t" style="left:220px;top:2359px;width:66px;height:125px">threaded inserts pull out of composite</div>
<div class="t" style="left:286px;top:2359px;width:83px;height:49px">Suplier data sheets. Designer to specify correct insert for load and composite and add to Assembly Drawing.</div>
<div class="t" style="left:286px;top:2408px;width:83px;height:76px">Suplier data sheets. Designer to research correct torque value and specify on Assembly Drawing</div>
<div class="t" style="left:369px;top:2359px;width:12px;height:125px">3</div>
<div class="t" style="left:381px;top:2359px;width:76px;height:125px">Correct torque parameters to be specified on the assembly drawing is checked by Design Engineer and verified by Senior Engineer</div>
<div class="t" style="left:457px;top:2359px;width:12px;height:125px">4</div>
<div class="t" style="left:469px;top:2359px;width:16px;height:125px">60</div>
<div class="t" style="left:209px;top:2484px;width:11px;height:76px">6</div>
<div class="t" style="left:220px;top:2484px;width:66px;height:76px">vibration</div>
<div class="t" style="left:286px;top:2484px;width:83px;height:76px">Designer to include positive location features to the design</div>
<div class="t" style="left:369px;top:2484px;width:12px;height:76px">7</div>
<div class="t" style="left:381px;top:2484px;width:76px;height:76px">Design feature on the assembly drawing is checked by Design Engineer and verified by Senior Engineer</div>
<div class="t" style="left:457px;top:2484px;width:12px;height:76px">10</div>
<div class="t red" style="left:469px;top:2484px;width:16px;height:76px">420</div>
<div class="r" style="top:2073px;height:27px">Ensure threadlocker is specified on relevant Work Instructions</div>
<div class="r" style="top:2100px;height:30px">Develop more robust process for drawing verification and approval</div>
<div class="r" style="top:2130px;height:28px">Prototype build</div>
<div class="r" style="top:2158px;height:47px">Develop more robust process for drawing verification and approval</div>
<div class="r" style="top:2205px;height:30px">Ensure correct torque settings specified on relevant Work Instructions</div>
<div class="r" style="top:2235px;height:30px">Prototype build</div>
<div class="r" style="top:2265px;height:33px">Develop more robust process for drawing verification and approval</div>
<div class="r" style="top:2298px;height:15px">Prototype build</div>
<div class="r" style="top:2313px;height:32px">Develop more robust process for drawing</div>
<div class="r" style="top:2345px;height:35px">Ensure processing methods are accurately carried across to relevant Work Instructions/Lay-up books</div>
<div class="r" style="top:2380px;height:27px">Recommend test samples/design experiments</div>
<div class="r" style="top:2407px;height:26px">grom-ex inserts to be investigated</div>
<div class="r" style="top:2433px;height:51px">Design Review process to be initiated</div>
<div class="r" style="top:2484px;height:28px">Develop more robust process for drawing verification and approval</div>
<div class="r" style="top:2512px;height:25px">Design Review process to be initiated</div>
<div class="r" style="top:2537px;height:23px">Recommend vibration testing</div>
<!-- actions taken -->
<div class="h" style="left:574px;top:2182px;width:186px"></div>
<div class="h" style="left:574px;top:2252px;width:186px"></div>
<div class="t" style="left:574px;top:2158px;width:43px;height:24px">S. Turner</div>
<div class="t" style="left:617px;top:2158px;width:43px;height:24px">24/06/2016</div>
<div class="t" style="left:660px;top:2158px;width:100px;height:24px">Agree and develop procedure for approval process and set competency levels</div>
<div class="t" style="left:574px;top:2182px;width:43px;height:23px">L. Wallis</div>
<div class="t" style="left:617px;top:2182px;width:43px;height:23px">01/07/2016</div>
<div class="t" style="left:660px;top:2182px;width:100px;height:23px">Develop training plan and arrange training</div>
<div class="t" style="left:574px;top:2205px;width:43px;height:30px">B. Sayer</div>
<div class="t" style="left:617px;top:2205px;width:43px;height:30px">17/06/2016</div>
<div class="t" style="left:660px;top:2205px;width:100px;height:30px">WZ torque value added to WI 123</div>
<div class="t" style="left:574px;top:2235px;width:43px;height:17px">S. Mc Allister</div>
<div class="t" style="left:617px;top:2235px;width:43px;height:17px">06/06/2016</div>
<div class="t" style="left:660px;top:2235px;width:100px;height:17px">Design tooling, create drawing and order parts</div>
<div class="t" style="left:574px;top:2252px;width:43px;height:13px">B. Sayer</div>
<div class="t" style="left:617px;top:2252px;width:43px;height:13px">17/06/2016</div>
<div class="t" style="left:660px;top:2252px;width:100px;height:13px">To arrange resource and equipment to build prototype</div>
<div class="t" style="left:760px;top:2158px;width:11px;height:107px">5</div>
<div class="t" style="left:771px;top:2158px;width:11px;height:107px">3</div>
<div class="t" style="left:782px;top:2158px;width:12px;height:107px">3</div>
<div class="t grn" style="left:794px;top:2158px;width:19px;height:107px">45</div>
<!-- zeros -->
<div class="t grn" style="left:794px;top:95px;width:19px;height:10px">0</div>
<div class="t grn" style="left:794px;top:225px;width:19px;height:10px">0</div>
<div class="t grn" style="left:794px;top:255px;width:19px;height:10px">0</div>
<div class="t grn" style="left:794px;top:280px;width:19px;height:10px">0</div>
<div class="t grn" style="left:794px;top:302px;width:19px;height:10px">0</div>
<div class="t grn" style="left:794px;top:327px;width:19px;height:10px">0</div>
<div class="t grn" style="left:794px;top:355px;width:19px;height:10px">0</div>
<div class="t grn" style="left:794px;top:390px;width:19px;height:10px">0</div>
<div class="t grn" style="left:794px;top:426px;width:19px;height:10px">0</div>
<div class="t grn" style="left:794px;top:457px;width:19px;height:10px">0</div>
<div class="t grn" style="left:794px;top:491px;width:19px;height:10px">0</div>
<div class="t grn" style="left:794px;top:531px;width:19px;height:10px">0</div>
<div class="t grn" style="left:794px;top:573px;width:19px;height:10px">0</div>
<div class="t grn" style="left:794px;top:600px;width:19px;height:10px">0</div>
<div class="t grn" style="left:794px;top:702px;width:19px;height:10px">0</div>
<div class="t grn" style="left:794px;top:755px;width:19px;height:10px">0</div>
<div class="t grn" style="left:794px;top:808px;width:19px;height:10px">0</div>
<div class="t grn" style="left:794px;top:898px;width:19px;height:10px">0</div>
<div class="t grn" style="left:794px;top:1313px;width:19px;height:10px">0</div>
<div class="t grn" style="left:794px;top:1514px;width:19px;height:10px">0</div>
<div class="t grn" style="left:794px;top:1621px;width:19px;height:10px">0</div>
<div class="t grn" style="left:794px;top:1677px;width:19px;height:10px">0</div>
<div class="t grn" style="left:794px;top:1751px;width:19px;height:10px">0</div>
<div class="t grn" style="left:794px;top:2124px;width:19px;height:10px">0</div>
<div class="t grn" style="left:794px;top:2277px;width:19px;height:10px">0</div>

<!-- overlay: arrows and ellipses -->
<svg class="a" style="left:0;top:0" width="813" height="2560" viewBox="0 0 813 2560">
<g fill="none" stroke="#2f5597" stroke-width="8" stroke-linejoin="round">
<path d="M583 813 V830 Q583 849 564 849 H172"/>
<path d="M471 1045 V1008 Q471 992 455 992 H180 Q164 992 164 1008 V1036"/>
<path d="M680 1385 V1595 Q680 1617 658 1617 H528"/>
<path d="M251 1524 V1474"/>
<path d="M498 1524 V1492"/>
</g>
<g fill="none" stroke="#4f81bd" stroke-width="5.5" stroke-linejoin="round">
<path d="M583 813 V830 Q583 849 564 849 H172"/>
<path d="M471 1045 V1008 Q471 992 455 992 H180 Q164 992 164 1008 V1036"/>
<path d="M680 1385 V1595 Q680 1617 658 1617 H528"/>
<path d="M251 1524 V1474"/>
<path d="M498 1524 V1492"/>
</g>
<g fill="#4f81bd" stroke="#2f5597" stroke-width="1">
<polygon points="155,849 174,837 174,861"/>
<polygon points="164,1052 152,1035 176,1035"/>
<polygon points="512,1617 530,1605 530,1629"/>
<polygon points="251,1459 240,1476 262,1476"/>
<polygon points="498,1478 487,1494 509,1494"/>
</g>
<g fill="#fde9d9" stroke="#f79646" stroke-width="1.2">
<polygon points="216,448 228,440 228,444 322,444 322,452 228,452 228,456"/>
<polygon points="447,770 460,761 460,766 556,766 556,774 460,774 460,779"/>
<polygon points="80,762 89,776 84,776 84,798 76,798 76,776 71,776"/>
<polygon points="240,1095 228,1085 228,1090 198,1090 198,1100 228,1100 228,1105"/>
<polygon points="373,1149 362,1139 362,1144 351,1144 351,1154 362,1154 362,1159"/>
<polygon points="463,1306 478,1294 478,1300 500,1300 500,1312 478,1312 478,1318"/>
<polygon points="288,1422 278,1412 278,1417 270,1417 270,1427 278,1427 278,1432"/>
<polygon points="447,1438 458,1428 458,1433 470,1433 470,1443 458,1443 458,1448"/>
</g>
<g fill="none" stroke="#e8201f" stroke-width="1.3">
<ellipse cx="28" cy="333" rx="26" ry="76"/>
<ellipse cx="122" cy="419" rx="26" ry="133"/>
<ellipse cx="178" cy="576" rx="30" ry="143"/>
<ellipse cx="217" cy="762" rx="11" ry="80"/>
<ellipse cx="376" cy="1110" rx="10" ry="100"/>
<ellipse cx="463" cy="1240" rx="10" ry="118"/>
<ellipse cx="469" cy="2034" rx="12" ry="59"/>
<ellipse cx="579" cy="2211" rx="85" ry="70"/>
<ellipse cx="710" cy="2209" rx="50" ry="66"/>
<ellipse cx="786" cy="2213" rx="25" ry="55"/>
<path d="M100 246 L43 305"/>
<path d="M206 362 L136 391"/>
<path d="M316 522 L202 522"/>
<path d="M288 747 L220 747"/>
<path d="M452 1083 L382 1083"/>
<path d="M542 2021 L472 2021"/>
<path d="M440 2262 L567 2200"/>
<path d="M582 2338 L668 2230"/>
<path d="M723 2340 L779 2230"/>
</g>
</svg>

<!-- callouts -->
<div class="step" style="left:92px;top:196px;width:183px;height:50px;font-size:7.5px"><b>STEP 1 &nbsp;Review the Design (Cont.)</b> Use Item/Function column to list Components and Interfaces</div>
<div class="step" style="left:206px;top:299px;width:197px;height:98px;font-size:7.8px;padding-top:5px"><b>STEP 2 &nbsp;Brainstorm potential failure modes</b><br>Review existing documentation and data for clues. Document all likely failure modes. Use references such as: Lessons Learnt, customer concerns, rework and scrap records for similar projects. &nbsp;Consider failure under difficult usage condition, not just 'ideal'</div>
<div class="or" style="left:320px;top:416px;width:328px;height:70px;padding-top:4px"><b>Severity Rankings</b><br>The severity ranking is based on a relative scale ranging from 1 to 10. A "10" means the effect has a dangerously high severity leading to a hazard without warning.<br>Conversely, a severity ranking of "1" means the severity is extremely low. The scales provide a relative, not an absolute, scale.<br><i>A high severity rating should be applied if the potential design failure mode delays the agreed launch date for release into production.</i></div>
<div class="step" style="left:316px;top:499px;width:180px;height:45px;padding-top:5px"><b>STEP 3 List potential effects of failure</b><br>There may be more than one for each failure.</div>
<div class="step" style="left:288px;top:734px;width:181px;height:48px;padding-top:5px"><b>STEP 4 Assign Severity rankings</b><br>Based on the severity of the consequences of failure.</div>
<div class="or" style="left:555px;top:725px;width:206px;height:88px"><b>Assessment of Severity</b><br>Level 1. System Level – the whole vehicle<br>Level 2. Subsystem Level – a subassembly fitted to the vehicle i.e. seat, engine, brakes, suspension, electrical system etc.<br>Level 3. Component Level – individual component<br><b><i>When assessing severity it must be considered whether a lower level failure mode affects a higher level directly or indirectly and whether this affects a Primary or Secondary function of the vehicle.</i></b></div>
<div class="or" style="left:4px;top:798px;width:155px;height:141px"><b>Primary Function (PF)</b><br>Any function on the vehicle that would risk:<br>The safe operation of the vehicle<br>Adherence to government regulation<br>Causing the vehicle to become inoperable but without affecting safe operation<br>A reduced level of performance but vehicle still operable<br><b>Secondary Function (SF)</b><br>Any function on the vehicle that would risk:<br>Causing comfort/convenience functions to be inoperable but vehicle remains operable<br>Causing comfort/convenience functions to have a reduced level of performance but vehicle remains operable</div>
<div class="or" style="left:35px;top:1045px;width:162px;height:100px"><b>Potential Causes</b><br>We need to know the potential cause to determine the <u>occurrence ranking</u> because, just like the severity ranking is driven by the effect, the occurrence ranking is a function of the cause.<br>The occurrence ranking is based on the likelihood or frequency, that the cause (or mechanism of failure) will occur.<br>&nbsp;If we know the cause, we can better identify how frequently a specific mode of failure will occur.</div>
<div class="step" style="left:452px;top:1045px;width:180px;height:59px;padding-top:5px"><b>STEP 5 Assign Occurrence rankings</b><br>Assign Occurrence rankings Based on how frequently the cause of the failure is likely to occur.</div>
<div class="or" style="left:268px;top:1104px;width:83px;height:89px"><b>Occurance Ranking</b><br>An occurrence ranking of "10" means the failure mode occurrence is very high; it happens all of the time.<br>Conversely, a "1" means the probability</div>
<div class="step" style="left:539px;top:1170px;width:198px;height:48px;padding-top:5px"><b>STEP 6 Assign Detection Rankings</b><br>Based on the chances the failure will be detected prior to the customer finding it.</div>
<div class="or" style="left:499px;top:1225px;width:245px;height:160px"><b>Detection Ranking</b><br>To assign detection rankings, consider the design or product-related controls already in place for each failure mode and then assign a detection ranking to each control.<br>Think of the detection ranking as an evaluation of the ability of the design controls to prevent or detect the mechanism of failure.<br><b><i>Prevention controls are always preferred over detection controls and should be considered first in preference to Detection methods.</i></b><br>Prevention controls prevent the cause or mechanism of failure or the failure mode itself from occurring; <u>they generally impact the frequency of occurrence</u>. Prevention controls come in different forms and levels of effectiveness.<br>Detection controls detect the cause, the mechanism of failure, or the failure mode itself after the failure has occurred BUT before the product is released from the design stage.<br>&nbsp;A detection ranking of "1" means the chance of detecting a failure is almost certain. Conversely, a "10" means the detection of a failure or mechanism of</div>
<div class="or" style="left:162px;top:1391px;width:108px;height:68px"><b>Design Control - Prevention</b><br>Prevent the cause of the mechanism of failure or the failure mode from occurring, or reduce its rate of occurrence.</div>
<div class="or" style="left:469px;top:1398px;width:107px;height:80px"><b>Design Control - Detection</b><br>Detect the existence of the cause, the resulting mechanism of failure or the failure mode, either by analytical or physical methods, before the item is released into production.</div>
<div class="a" style="left:231px;top:1524px;width:285px;height:178px;background:#c5d9f1;border:1.5px solid #7a9cc9;font-size:5.6px;line-height:1.5;padding:3px 4px;color:#222">
<div style="text-align:center;font-weight:bold;font-size:7.5px">Design Controls</div>
<div style="text-align:center">These are activities conducted as part of the design process that have been completed or committed to and that will assure the design adequacy for the design function and reliability requirements under consideration. There are two types to consider:</div>
<div style="text-align:center;font-weight:bold;font-size:10px;line-height:1.4">Prevention and Detection</div>
<div>The DFMEA team should consider analysis, testing, reviews and other activities that will assure the adequacy of the design such as:<br><b>Prevention Controls</b> - Design and Material standards, Design Manuals, Lessons Learnt, FEA.<br><b>Detection Controls</b> - Design Reviews, Prototype testing, Validation testing, mock-ups, test pieces etc.<br><br><i>If the type of Design Controls listed above are not present or have not been planned at the time of the DFMEA then the <b>Occurrence</b> rating will automatically be increased to <b>High</b> i.e:<br>8 - Failure is uncertain with new design, new application, or change in duty cycle/operating conditions<br>9 - Failure is likely with new design, new application, or change in duty cycle/operating conditions<br>10 - New technology/new design with no history</i></div></div>
<div class="step" style="left:542px;top:2007px;width:197px;height:41px;padding-top:4px"><b>STEP 7 Calculate the RPN</b><br>Calculate the RPN Severity x Occurrence x Detection.</div>
<div class="step" style="left:270px;top:2223px;width:175px;height:49px;padding-top:5px"><b>STEP 8 Develop the Action Plan</b><br>Develop the action plan and define who will do what by when.</div>
<div class="step" style="left:442px;top:2335px;width:167px;height:45px;padding-top:4px"><b>STEP 9 Take Action</b><br>Take action Implement the improvements identified by your DFMEA</div>
<div class="step" style="left:631px;top:2328px;width:178px;height:90px;padding-top:12px"><b>STEP 10 Recalculate the Resulting RPN</b><br>Re-evaluate each of the potential failures once improvements have been made and determine their impact on the RPNs.</div>
</body></html>
